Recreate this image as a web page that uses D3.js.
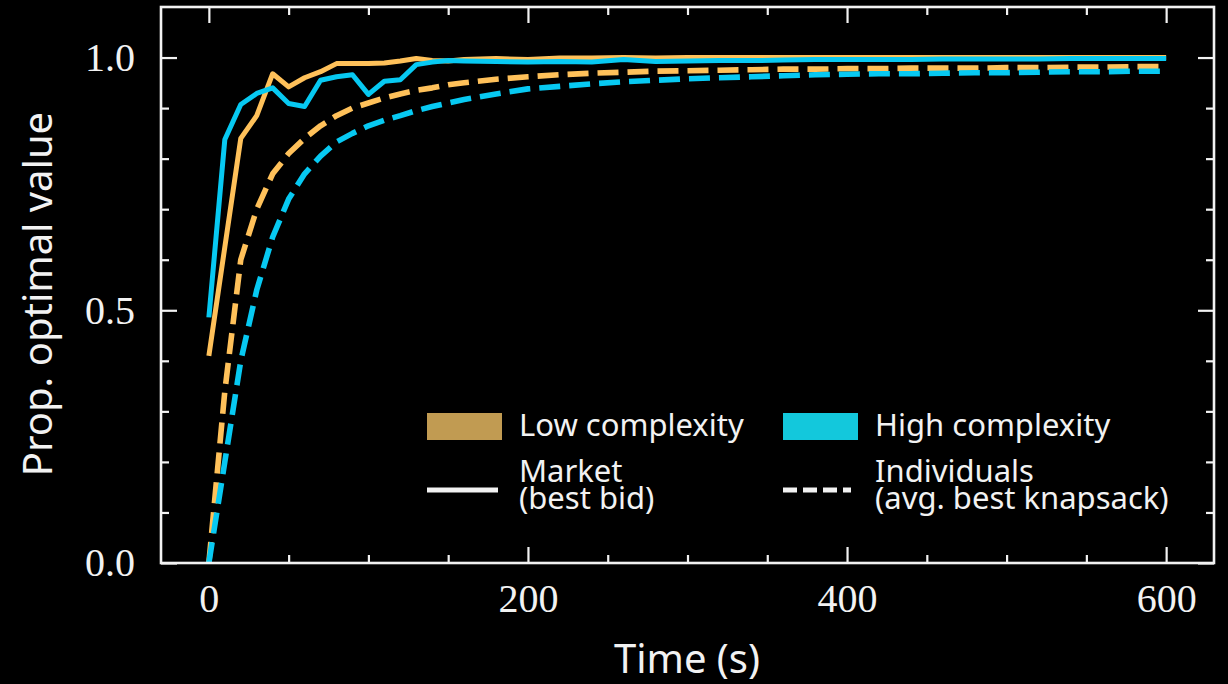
<!DOCTYPE html>
<html>
<head>
<meta charset="utf-8">
<script src="https://cdn.jsdelivr.net/npm/d3@7"></script>
<style>
	body { margin: 0; background: #000; }
	svg { display: block; }
</style>
</head>
<body>
<div id="chart"></div>
<script>
/* global d3 */

// time points (s)
var times = [0, 10, 20, 30, 40, 50, 60, 70, 80, 90, 100, 110, 120, 130, 140, 150, 160,
	180, 200, 220, 240, 260, 280, 300, 320, 340, 360, 380, 400, 420, 440, 460, 480, 500,
	520, 540, 560, 580, 600];

// market, best bid
var lowMarket = [0.41, 0.625, 0.84, 0.885, 0.968, 0.942, 0.960, 0.972, 0.988, 0.988, 0.988,
	0.989, 0.993, 0.998, 0.994, 0.993, 0.996,
	0.998, 0.996, 0.999, 0.999, 1.0, 0.999, 1.0, 1.0, 1.0, 1.0, 1.0, 1.0, 1.0, 1.0, 1.0,
	1.0, 1.0, 1.0, 1.0, 1.0, 1.0, 1.0];
var highMarket = [0.486, 0.838, 0.907, 0.929, 0.940, 0.909, 0.903, 0.955, 0.962, 0.966, 0.927,
	0.953, 0.956, 0.986, 0.991, 0.994, 0.993,
	0.992, 0.991, 0.992, 0.991, 0.996, 0.992, 0.993, 0.994, 0.994, 0.995, 0.996, 0.996,
	0.996, 0.996, 0.997, 0.997, 0.997, 0.997, 0.998, 0.998, 0.998, 0.998];

// individuals, avg. best knapsack
var lowIndiv = [0, 0.34, 0.60, 0.70, 0.77, 0.81, 0.84, 0.865, 0.885, 0.90, 0.91,
	0.92, 0.928, 0.935, 0.94, 0.946, 0.95,
	0.957, 0.962, 0.966, 0.969, 0.971, 0.973, 0.974, 0.975, 0.976, 0.977, 0.977, 0.978,
	0.978, 0.979, 0.979, 0.979, 0.980, 0.980, 0.981, 0.981, 0.982, 0.982];
var highIndiv = [0, 0.20, 0.40, 0.54, 0.645, 0.72, 0.77, 0.805, 0.833, 0.85, 0.865,
	0.876, 0.885, 0.895, 0.903, 0.91, 0.917,
	0.928, 0.938, 0.943, 0.948, 0.952, 0.955, 0.958, 0.960, 0.962, 0.964, 0.966, 0.967,
	0.968, 0.968, 0.969, 0.970, 0.970, 0.971, 0.972, 0.972, 0.973, 0.973];

var xTicks = [0, 200, 400, 600],
	xMinor = [50, 100, 150, 250, 300, 350, 450, 500, 550],
	yTicks = [0, 0.5, 1.0],
	yMinor = [0.1, 0.2, 0.3, 0.4, 0.6, 0.7, 0.8, 0.9];

var legendGroups = ["Low complexity", "High complexity"],
	legendStyles = [["Market", "(best bid)"], ["Individuals", "(avg. best knapsack)"]];

var orange = "#ffc15a",
	cyan = "#07c9f2",
	ink = "#f2f2f2";

var width = 1228,
	height = 684,
	margin = {top: 7, right: 14, bottom: 121, left: 161},
	innerWidth = width - margin.left - margin.right,
	innerHeight = height - margin.top - margin.bottom;

var xScale = d3.scaleLinear().domain([-30, 630]).range([0, innerWidth]),
	yScale = d3.scaleLinear().domain([0, 1.1]).range([innerHeight, 0]);

var svg = d3.select("#chart").append("svg")
	.attr("width", width)
	.attr("height", height)
	.style("background", "#000");

var g = svg.append("g")
	.attr("transform", "translate(" + margin.left + "," + margin.top + ")");

var serif = "'Liberation Serif', 'DejaVu Serif', serif",
	sans = "'Noto Sans', 'Open Sans', sans-serif";

// ticks point inward on all four sides
function styleAxis(sel) {
	sel.select(".domain").remove();
	sel.selectAll(".tick line").attr("stroke", ink).attr("stroke-width", 2.2);
	sel.selectAll(".tick text")
		.filter(function() { return !this.textContent; })
		.remove();
	sel.selectAll(".tick text")
		.attr("fill", ink)
		.style("font-family", serif)
		.style("font-size", "40px");
}

g.append("g")
	.attr("transform", "translate(0," + innerHeight + ")")
	.call(d3.axisBottom(xScale).tickValues(xTicks).tickSize(-16).tickPadding(21).tickFormat(d3.format("d")))
	.call(styleAxis);
g.append("g")
	.attr("transform", "translate(0," + innerHeight + ")")
	.call(d3.axisBottom(xScale).tickValues(xMinor).tickSize(-8).tickFormat(""))
	.call(styleAxis);
g.append("g")
	.call(d3.axisTop(xScale).tickValues(xTicks).tickSize(-16).tickFormat(""))
	.call(styleAxis);
g.append("g")
	.call(d3.axisTop(xScale).tickValues(xMinor).tickSize(-8).tickFormat(""))
	.call(styleAxis);

g.append("g")
	.call(d3.axisLeft(yScale).tickValues(yTicks).tickSize(-16).tickPadding(26).tickFormat(d3.format(".1f")))
	.call(styleAxis);
g.append("g")
	.call(d3.axisLeft(yScale).tickValues(yMinor).tickSize(-8).tickFormat(""))
	.call(styleAxis);
g.append("g")
	.attr("transform", "translate(" + innerWidth + ",0)")
	.call(d3.axisRight(yScale).tickValues(yTicks).tickSize(-16).tickFormat(""))
	.call(styleAxis);
g.append("g")
	.attr("transform", "translate(" + innerWidth + ",0)")
	.call(d3.axisRight(yScale).tickValues(yMinor).tickSize(-8).tickFormat(""))
	.call(styleAxis);

// lines
var line = d3.line()
	.x(function(d) { return xScale(d[0]); })
	.y(function(d) { return yScale(d[1]); });

var series = [
	{values: lowMarket, color: orange, dash: null, w: 5},
	{values: highMarket, color: cyan, dash: null, w: 5},
	{values: lowIndiv, color: orange, dash: "21,9", w: 5.6},
	{values: highIndiv, color: cyan, dash: "21,9", w: 5.6}
];

var plot = g.append("g");
series.forEach(function(s) {
	plot.append("path")
		.datum(times.map(function(t, i) { return [t, s.values[i]]; }))
		.attr("fill", "none")
		.attr("stroke", s.color)
		.attr("stroke-width", s.w)
		.attr("stroke-linejoin", "round")
		.attr("stroke-dasharray", s.dash)
		.attr("d", line);
});

// frame
g.append("rect")
	.attr("width", innerWidth)
	.attr("height", innerHeight)
	.attr("fill", "none")
	.attr("stroke", ink)
	.attr("stroke-width", 2.6);

// axis labels
svg.append("text")
	.attr("x", 687)
	.attr("y", 673)
	.attr("text-anchor", "middle")
	.attr("fill", ink)
	.style("font-family", sans)
	.style("font-size", "40px")
	.text("Time (s)");

svg.append("text")
	.attr("transform", "translate(52,294) rotate(-90)")
	.attr("text-anchor", "middle")
	.attr("fill", ink)
	.style("font-family", sans)
	.style("font-size", "40px")
	.text("Prop. optimal value");

// legend
var legend = svg.append("g").style("font-family", sans).style("font-size", "31px");
var colX = [427, 783],
	patchColors = ["#c19b52", "#13c8dc"];

legendGroups.forEach(function(name, i) {
	legend.append("rect")
		.attr("x", colX[i])
		.attr("y", 413)
		.attr("width", 75)
		.attr("height", 27)
		.attr("fill", patchColors[i]);
	legend.append("text")
		.attr("x", colX[i] + 92)
		.attr("y", 436)
		.attr("fill", ink)
		.text(name);
});

legendStyles.forEach(function(lines, i) {
	legend.append("line")
		.attr("x1", colX[i])
		.attr("x2", colX[i] + (i === 0 ? 71 : 68))
		.attr("y1", 490)
		.attr("y2", 490)
		.attr("stroke", ink)
		.attr("stroke-width", 5)
		.attr("stroke-dasharray", i === 0 ? null : "14,6");
	legend.append("text")
		.attr("x", colX[i] + 92)
		.attr("y", 482)
		.attr("fill", ink)
		.text(lines[0]);
	legend.append("text")
		.attr("x", colX[i] + 92)
		.attr("y", 509)
		.attr("fill", ink)
		.text(lines[1]);
});
</script>
</body>
</html>
